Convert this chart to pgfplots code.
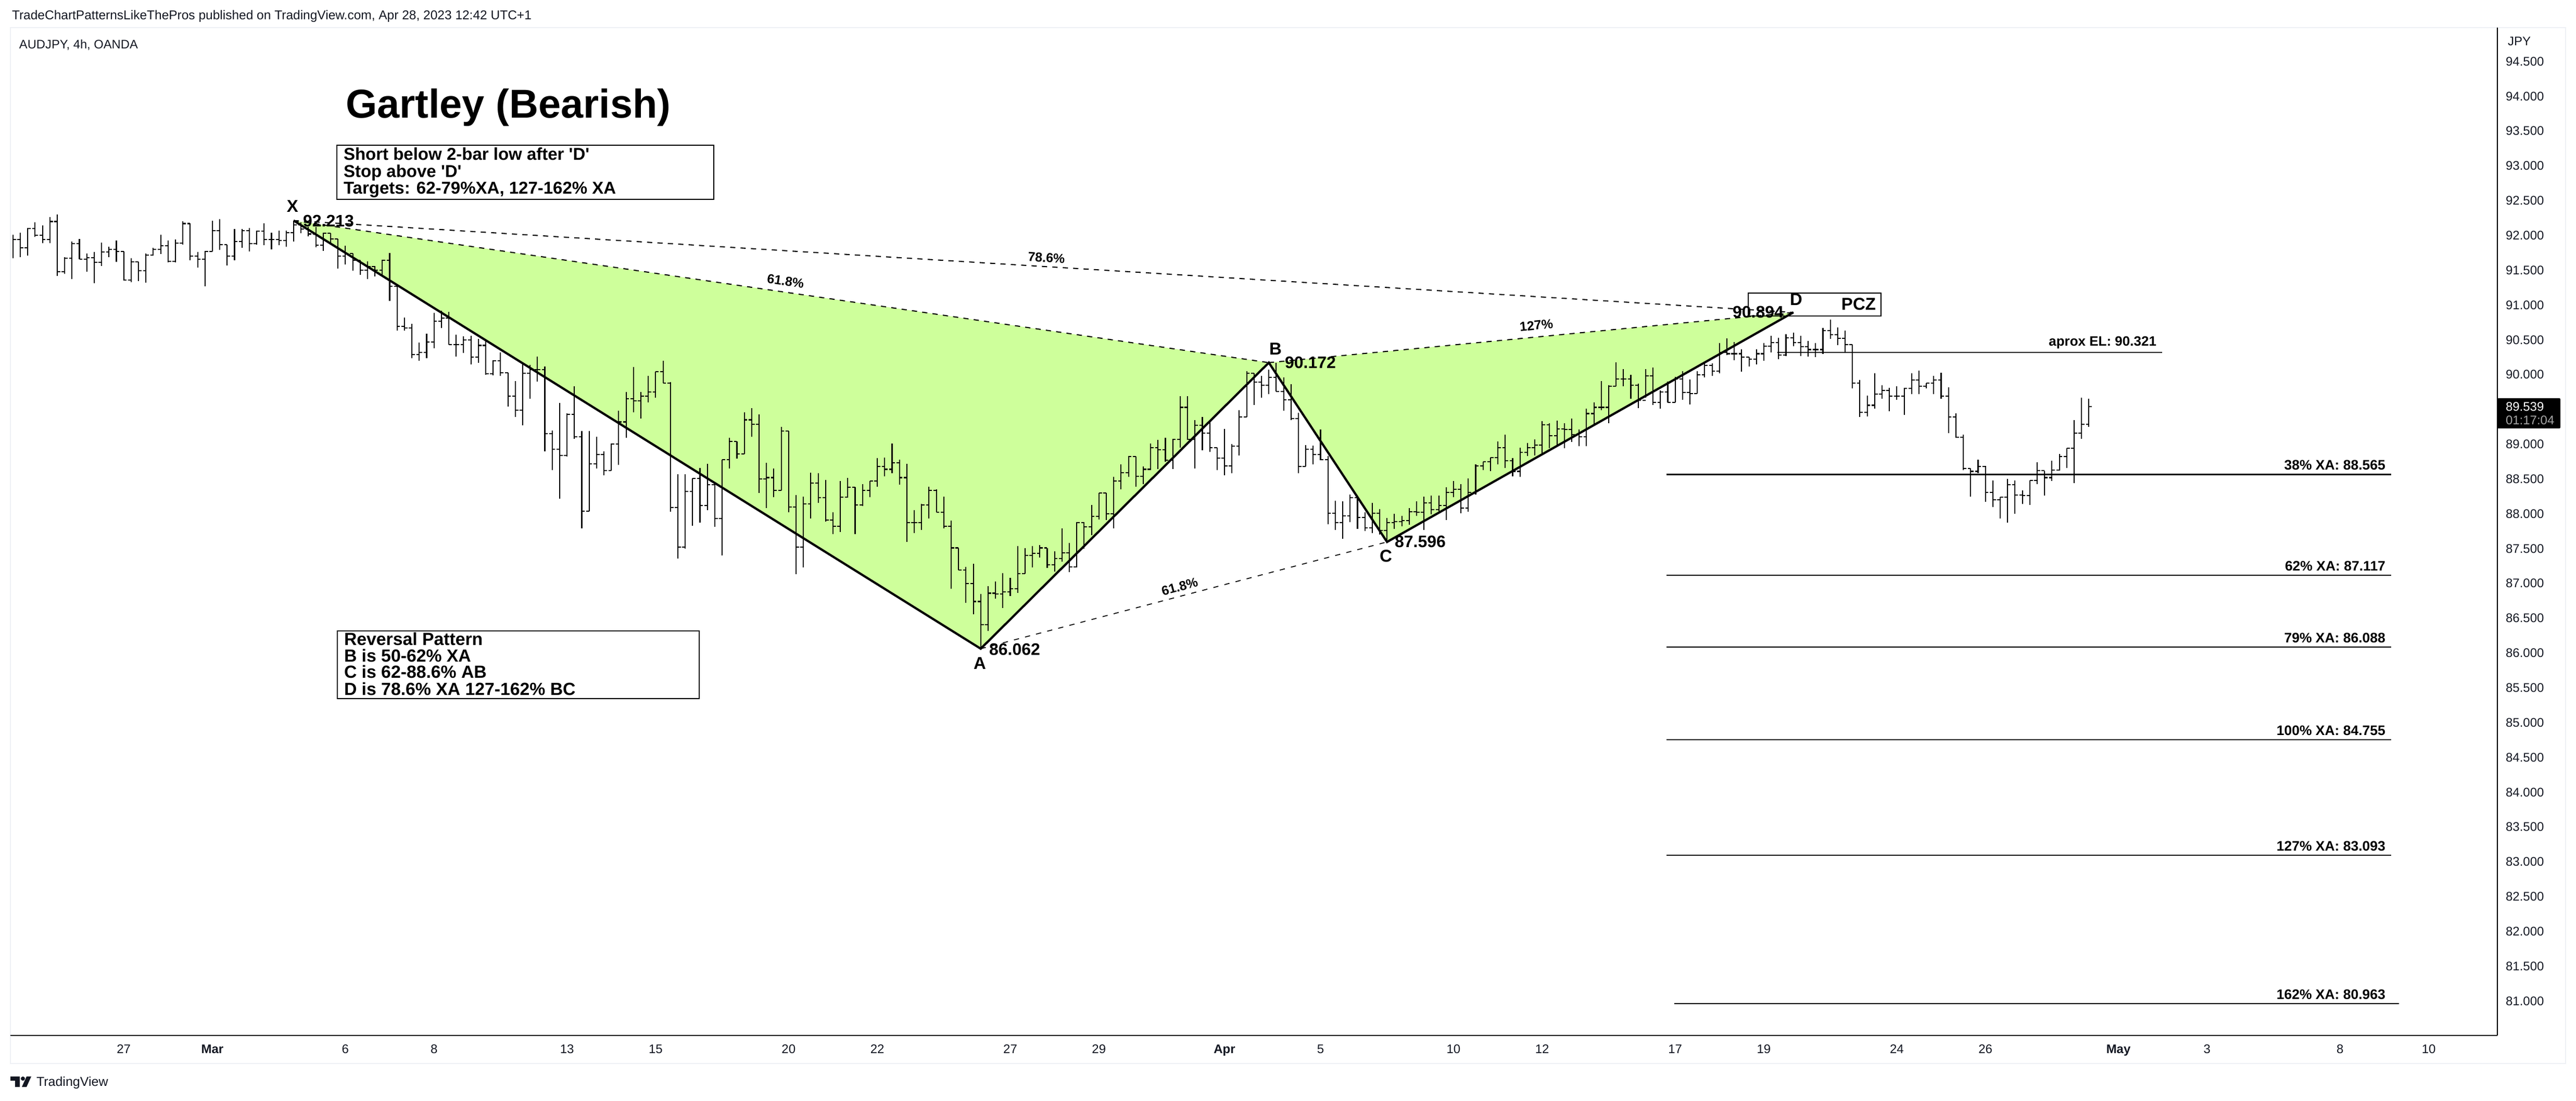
\documentclass[border=0pt]{standalone}
\usepackage{fontspec}
\setmainfont{Liberation Sans}
\newfontfamily\plainq{Liberation Sans}
\usepackage{pgfplots}
\usepackage{pgfplotstable}
\pgfplotsset{compat=1.18}
\definecolor{patfill}{HTML}{CEFF9B}
\definecolor{tvink}{HTML}{131722}
\definecolor{paneedge}{HTML}{EEF0F5}
\newcommand\fs[1]{\fontsize{#1}{#1}\selectfont}
\pgfdeclareplotmark{closetick}{\pgfpathmoveto{\pgfpointorigin}\pgfpathlineto{\pgfpoint{1.15pt}{0pt}}\pgfusepathqstroke}
\pgfdeclareplotmark{opentick}{\pgfpathmoveto{\pgfpointorigin}\pgfpathlineto{\pgfpoint{-1.15pt}{0pt}}\pgfusepathqstroke}
\pgfplotstableread{
x h l c
-38 92.01 91.67 91.94
-37 92.04 91.69 91.82
-36 92.11 91.71 92.10
-35 92.19 91.98 92.00
-34 92.14 91.89 91.94
-33 92.26 91.89 92.20
-32 92.30 91.42 91.48
-31 91.69 91.45 91.67
-30 91.91 91.37 91.88
-29 91.95 91.66 91.66
-28 91.74 91.48 91.68
-27 91.76 91.31 91.61
-26 91.90 91.56 91.76
-25 91.84 91.69 91.80
-24 91.93 91.62 91.77
-23 91.77 91.35 91.36
-22 91.67 91.33 91.62
-21 91.62 91.34 91.49
-20 91.74 91.32 91.72
-19 91.82 91.71 91.80
-18 92.01 91.73 91.85
-17 91.93 91.61 91.63
-16 91.94 91.61 91.89
-15 92.20 91.87 92.17
-14 92.17 91.64 91.70
-13 91.76 91.54 91.66
-12 91.78 91.27 91.77
-11 92.21 91.77 92.07
-10 92.23 91.79 91.87
-9 91.87 91.57 91.70
-8 92.09 91.64 91.91
-7 92.09 91.82 92.07
-6 92.11 91.77 91.88
-5 92.07 91.87 92.06
-4 92.17 91.86 91.94
-3 92.04 91.80 91.94
-2 92.07 91.86 91.93
-1 92.07 91.84 92.04
0 92.213 91.91 92.15
1 92.19 92.03 92.09
2 92.12 91.99 92.02
3 92.12 91.83 91.86
4 92.04 91.78 92.03
5 92.03 91.88 91.95
6 91.95 91.52 91.70
7 91.85 91.58 91.74
8 91.74 91.49 91.64
9 91.64 91.43 91.50
10 91.63 91.37 91.55
11 91.56 91.41 91.50
12 91.65 91.43 91.64
13 91.75 91.06 91.27
14 91.27 90.63 90.69
15 90.82 90.63 90.67
16 90.73 90.24 90.29
17 90.46 90.20 90.32
18 90.59 90.24 90.47
19 90.89 90.38 90.77
20 90.92 90.67 90.81
21 90.90 90.43 90.43
22 90.57 90.26 90.43
23 90.55 90.31 90.50
24 90.56 90.15 90.25
25 90.51 90.17 90.42
26 90.50 90.00 90.01
27 90.21 89.99 90.20
28 90.32 89.98 90.03
29 90.03 89.54 89.69
30 89.91 89.39 89.49
31 90.15 89.27 90.02
32 90.14 89.65 90.07
33 90.26 89.90 90.07
34 90.12 88.90 89.15
35 89.20 88.63 88.93
36 89.59 88.22 88.84
37 89.44 88.82 89.43
38 89.83 89.08 89.11
39 89.19 87.79 88.04
40 89.19 88.04 88.72
41 89.11 88.65 88.85
42 88.90 88.55 88.62
43 89.01 88.62 89.00
44 89.48 88.70 89.32
45 89.75 89.09 89.65
46 90.11 89.46 89.62
47 89.75 89.37 89.69
48 89.98 89.60 89.75
49 90.04 89.67 90.04
50 90.20 89.88 89.88
51 89.89 88.03 88.09
52 88.57 87.36 87.52
53 88.57 87.50 88.32
54 88.51 87.83 88.51
55 88.66 87.87 88.12
56 88.72 88.05 88.42
57 88.43 87.81 87.93
58 88.78 87.40 88.78
59 89.09 88.65 89.04
60 89.04 88.79 88.86
61 89.46 88.86 89.35
62 89.52 89.11 89.29
63 89.43 88.30 88.50
64 88.73 88.08 88.52
65 88.65 88.24 88.34
66 89.25 88.34 89.19
67 89.19 88.02 88.10
68 88.27 87.13 87.52
69 88.25 87.23 88.14
70 88.59 87.93 88.44
71 88.58 88.16 88.23
72 88.49 87.89 87.91
73 88.02 87.71 87.82
74 88.47 87.74 88.24
75 88.52 88.23 88.38
76 88.38 87.71 88.13
77 88.43 88.11 88.34
78 88.47 88.24 88.47
79 88.80 88.39 88.68
80 88.81 88.54 88.64
81 89.01 88.58 88.73
82 88.78 88.42 88.52
83 88.72 87.60 87.87
84 88.05 87.72 87.87
85 88.14 87.77 88.13
86 88.39 87.93 88.34
87 88.35 88.02 88.02
88 88.25 87.79 87.82
89 87.90 86.92 87.51
90 87.51 87.19 87.19
91 87.24 86.72 87.00
92 87.28 86.56 86.74
93 86.85 86.06 86.41
94 86.96 86.32 86.86
95 87.03 86.78 86.85
96 87.15 86.65 86.88
97 87.08 86.82 86.92
98 87.54 86.86 87.14
99 87.51 87.14 87.40
100 87.54 87.23 87.43
101 87.55 87.37 87.51
102 87.51 87.22 87.27
103 87.46 87.17 87.36
104 87.79 87.31 87.44
105 87.58 87.16 87.24
106 87.88 87.23 87.87
107 87.88 87.50 87.81
108 88.13 87.69 87.96
109 88.30 87.92 88.30
110 88.30 87.91 88.00
111 88.53 87.79 88.47
112 88.71 88.35 88.59
113 88.83 88.53 88.82
114 88.82 88.39 88.54
115 88.68 88.43 88.64
116 89.01 88.63 88.95
117 89.06 88.64 88.92
118 89.09 88.75 88.77
119 89.08 88.64 89.07
120 89.69 88.95 89.53
121 89.69 89.06 89.07
122 89.35 88.65 89.27
123 89.39 88.91 89.16
124 89.32 88.89 88.95
125 88.95 88.63 88.80
126 89.22 88.55 88.69
127 89.00 88.58 88.97
128 89.49 88.84 89.39
129 90.05 89.39 90.02
130 90.02 89.56 89.89
131 89.98 89.67 89.85
132 90.07 89.72 89.96
133 90.172 89.76 89.76
134 89.96 89.48 89.64
135 89.86 89.35 89.37
136 89.45 88.58 88.68
137 88.99 88.68 88.93
138 88.98 88.71 88.85
139 89.21 88.77 88.78
140 88.83 87.85 88.01
141 88.19 87.77 87.87
142 88.18 87.64 87.97
143 88.28 87.88 88.23
144 88.23 87.78 87.95
145 88.02 87.75 87.80
146 88.16 87.72 88.01
147 88.07 87.70 87.76
148 87.94 87.596 87.87
149 88.00 87.78 87.89
150 87.97 87.82 87.90
151 88.08 87.84 88.03
152 88.18 87.97 88.02
153 88.25 87.77 88.16
154 88.26 87.99 88.06
155 88.26 88.04 88.12
156 88.38 87.91 88.31
157 88.47 88.24 88.35
158 88.43 88.01 88.08
159 88.51 88.03 88.31
160 88.71 88.28 88.69
161 88.75 88.63 88.75
162 88.81 88.61 88.81
163 89.04 88.71 88.95
164 89.14 88.66 88.76
165 88.80 88.54 88.61
166 88.95 88.53 88.88
167 89.02 88.83 88.95
168 89.07 88.84 88.99
169 89.33 88.87 89.28
170 89.30 88.94 89.12
171 89.34 88.99 89.22
172 89.30 88.94 89.21
173 89.37 89.03 89.14
174 89.21 88.97 89.11
175 89.51 88.97 89.44
176 89.60 89.29 89.53
177 89.91 89.49 89.53
178 89.85 89.30 89.83
179 90.18 89.83 89.94
180 90.08 89.83 89.94
181 90.00 89.65 89.85
182 89.87 89.52 89.63
183 90.08 89.67 89.98
184 90.10 89.56 89.60
185 89.77 89.51 89.75
186 89.90 89.60 89.60
187 89.97 89.60 89.94
188 90.05 89.64 89.74
189 89.93 89.57 89.73
190 90.05 89.73 90.00
191 90.16 89.96 90.13
192 90.16 89.98 90.05
193 90.45 90.02 90.32
194 90.52 90.28 90.30
195 90.47 90.21 90.30
196 90.36 90.04 90.25
197 90.25 90.12 90.22
198 90.36 90.15 90.30
199 90.45 90.20 90.41
200 90.56 90.32 90.46
201 90.53 90.22 90.28
202 90.58 90.27 90.53
203 90.60 90.41 90.46
204 90.56 90.27 90.40
205 90.48 90.26 90.36
206 90.45 90.25 90.36
207 90.67 90.30 90.63
208 90.79 90.51 90.57
209 90.68 90.42 90.52
210 90.63 90.31 90.43
211 90.43 89.80 89.88
212 89.92 89.39 89.46
213 89.70 89.40 89.56
214 90.02 89.51 89.72
215 89.85 89.65 89.77
216 89.81 89.47 89.69
217 89.83 89.64 89.69
218 89.81 89.42 89.80
219 90.02 89.72 89.92
220 90.06 89.72 89.83
221 89.88 89.80 89.88
222 89.98 89.72 89.92
223 90.03 89.65 89.69
224 89.82 89.16 89.39
225 89.44 89.09 89.10
226 89.14 88.63 88.65
227 88.65 88.25 88.61
228 88.78 88.58 88.68
229 88.69 88.17 88.31
230 88.48 88.10 88.20
231 88.24 87.93 88.24
232 88.50 87.87 88.42
233 88.48 88.00 88.27
234 88.34 88.14 88.26
235 88.48 88.13 88.48
236 88.74 88.43 88.62
237 88.61 88.26 88.52
238 88.76 88.47 88.63
239 88.86 88.62 88.82
240 88.94 88.66 88.94
241 89.35 88.44 89.16
242 89.67 89.08 89.29
243 89.65 89.25 89.539
}\bars
\begin{document}
\begin{tikzpicture}
\path (0,0) rectangle (989.6pt,422.8pt);
\draw[paneedge,line width=.4pt] (4pt,74.2pt) -- (4pt,412.2pt) -- (985.6pt,412.2pt) -- (985.6pt,14.2pt) -- (4pt,14.2pt) -- cycle;
\begin{axis}[
  at={(4pt,25pt)},anchor=south west,
  scale only axis,width=955.4pt,height=387.2pt,
  xmin=-38.34,xmax=298.3,ymin=80.506,ymax=94.986,
  axis x line=bottom,axis y line=right,
  axis line style={black,line width=.5pt,-},
  clip=false,
  xtick={-23,-11,7,19,37,49,67,79,97,109,126,139,157,169,187,199,217,229,247,259,277,289},
  xticklabels={27,\textbf{Mar},6,8,13,15,20,22,27,29,\textbf{Apr},5,10,12,17,19,24,26,\textbf{May},3,8,10},
  ytick={81,81.5,82,82.5,83,83.5,84,84.5,85,85.5,86,86.5,87,87.5,88,88.5,89,90,90.5,91,91.5,92,92.5,93,93.5,94,94.5},
  major tick length=0pt,
  scaled y ticks=false,
  xticklabel style={anchor=base,yshift=-6.8pt,inner sep=0pt,font=\fs{4.8pt},text=tvink},
  yticklabel style={anchor=west,xshift=3pt,inner sep=0pt,font=\fs{4.8pt},text=tvink,
    /pgf/number format/fixed,/pgf/number format/fixed zerofill,
    /pgf/number format/precision=3,/pgf/number format/assume math mode=true},
]
\addplot[fill=patfill,draw=none,forget plot] coordinates {(0,92.213) (93,86.062) (132,90.172)} --cycle;
\addplot[fill=patfill,draw=none,forget plot] coordinates {(132,90.172) (148,87.596) (203,90.894)} --cycle;
\addplot[only marks,mark=closetick,mark options={line width=.42pt,draw=black},
  error bars/.cd,y dir=both,y explicit,error mark=none,error bar style={line width=.42pt,black}]
  table[x=x,y=c,y error plus expr=\thisrow{h}-\thisrow{c},y error minus expr=\thisrow{c}-\thisrow{l}] {\bars};
\addplot[only marks,mark=opentick,mark options={line width=.42pt,draw=black},skip coords between index={281}{282}]
  table[x expr=\thisrow{x}+1,y=c] {\bars};
\addplot[black,line width=.42pt,dash pattern=on 2pt off 2pt] coordinates {(0,92.213) (132,90.172)};
\addplot[black,line width=.42pt,dash pattern=on 2pt off 2pt] coordinates {(0,92.213) (203,90.894)};
\addplot[black,line width=.35pt,dash pattern=on 2pt off 2.4pt] coordinates {(93,86.062) (148,87.596)};
\addplot[black,line width=.42pt,dash pattern=on 2pt off 2pt] coordinates {(132,90.172) (203,90.894)};
\addplot[black,line width=.85pt,line join=miter] coordinates {(0,92.213) (93,86.062) (132,90.172) (148,87.596) (203,90.894)};
\addplot[black,line width=.45pt] coordinates {(200.8,90.321) (252.9,90.321)};
\addplot[black,line width=.45pt] coordinates {(185.8,88.565) (283.9,88.565)};
\addplot[black,line width=.45pt] coordinates {(185.8,87.117) (283.9,87.117)};
\addplot[black,line width=.45pt] coordinates {(185.8,86.088) (283.9,86.088)};
\addplot[black,line width=.45pt] coordinates {(185.8,84.755) (283.9,84.755)};
\addplot[black,line width=.45pt] coordinates {(185.8,83.093) (283.9,83.093)};
\addplot[black,line width=.45pt] coordinates {(186.9,80.963) (285,80.963)};
\end{axis}
\begin{scope}[x=0.2pt,y=-0.2pt,shift={(0pt,422.8pt)}]
% header, footer, legend line
\node[anchor=west,inner sep=0pt,font=\fs{4.9pt},text=tvink] at (22,31) {TradeChartPatternsLikeThePros published on TradingView.com, Apr 28, 2023 12:42 UTC+1};
\node[anchor=west,inner sep=0pt,font=\fs{4.75pt},text=tvink] at (36,86) {AUDJPY, 4h, OANDA};
\node[anchor=west,inner sep=0pt,font=\fs{5pt},text=tvink] at (69,2080) {TradingView};
\fill[tvink] (20,2068) -- (38,2068) -- (38,2088) -- (29,2088) -- (29,2076) -- (20,2076) -- cycle;
\fill[tvink] (44,2072) circle (4);
\fill[tvink] (51,2068) -- (60,2068) -- (51,2088) -- (42,2088) -- cycle;
% price scale
\node[anchor=west,inner sep=0pt,font=\fs{4.8pt},text=tvink] at (4816,79) {JPY};
\fill[black,rounded corners=.4pt] (4797,765) rectangle (4918,823);
\node[anchor=west,inner sep=0pt,font=\fs{4.8pt},text=white] at (4812,781) {89.539};
\node[anchor=west,inner sep=0pt,font=\fs{4.8pt},text=black!35] at (4812,807) {01:17:04};
% title and boxes
\node[anchor=base west,inner sep=0pt,font=\bfseries\fs{15.5pt}] at (663,227) {Gartley (Bearish)};
\draw[black,line width=.42pt] (647,279) rectangle (1371,383);
\node[anchor=base west,inner sep=0pt,font=\bfseries\fs{6.6pt}] at (659,308) {\plainq Short below 2-bar low after 'D'};
\node[anchor=base west,inner sep=0pt,font=\bfseries\fs{6.6pt}] at (659,341) {\plainq Stop above 'D'};
\node[anchor=base west,inner sep=0pt,font=\bfseries\fs{6.6pt}] at (659,373) {Targets: 62-79\%XA, 127-162\% XA};
\draw[black,line width=.42pt] (648,1212) rectangle (1343,1342);
\node[anchor=base west,inner sep=0pt,font=\bfseries\fs{6.75pt}] at (660,1240) {Reversal Pattern};
\node[anchor=base west,inner sep=0pt,font=\bfseries\fs{6.75pt}] at (660,1272) {B is 50-62\% XA};
\node[anchor=base west,inner sep=0pt,font=\bfseries\fs{6.75pt}] at (660,1303) {C is 62-88.6\% AB};
\node[anchor=base west,inner sep=0pt,font=\bfseries\fs{6.75pt}] at (660,1336) {D is 78.6\% XA 127-162\% BC};
\draw[black,line width=.42pt] (3358,563) rectangle (3613,607);
% point labels
\node[inner sep=0pt,font=\bfseries\fs{6.6pt}] at (562,396) {X};
\node[inner sep=0pt,font=\bfseries\fs{6.4pt}] at (631,425) {92.213};
\node[inner sep=0pt,font=\bfseries\fs{6.6pt}] at (1882,1274) {A};
\node[inner sep=0pt,font=\bfseries\fs{6.4pt}] at (1949,1248) {86.062};
\node[inner sep=0pt,font=\bfseries\fs{6.6pt}] at (2450,670) {B};
\node[inner sep=0pt,font=\bfseries\fs{6.4pt}] at (2517,697) {90.172};
\node[inner sep=0pt,font=\bfseries\fs{6.6pt}] at (2662,1068) {C};
\node[inner sep=0pt,font=\bfseries\fs{6.4pt}] at (2728,1041) {87.596};
\node[inner sep=0pt,font=\bfseries\fs{6.6pt}] at (3450,575) {D};
\node[inner sep=0pt,font=\bfseries\fs{6.4pt}] at (3377,600) {90.894};
\node[inner sep=0pt,font=\bfseries\fs{6.6pt}] at (3570,584) {PCZ};
% ratios
\node[inner sep=0pt,font=\bfseries\fs{5pt},rotate=-3.4] at (2010,495) {78.6\%};
\node[inner sep=0pt,font=\bfseries\fs{5pt},rotate=-8] at (1509,540) {61.8\%};
\node[inner sep=0pt,font=\bfseries\fs{5pt},rotate=5.4] at (2951,625) {127\%};
\node[inner sep=0pt,font=\bfseries\fs{5pt},rotate=15] at (2266,1127) {61.8\%};
% levels
\node[anchor=east,inner sep=0pt,font=\bfseries\fs{5.2pt}] at (4143,658) {aprox EL: 90.321};
\node[anchor=east,inner sep=0pt,font=\bfseries\fs{5.3pt}] at (4583,893) {38\% XA: 88.565};
\node[anchor=east,inner sep=0pt,font=\bfseries\fs{5.3pt}] at (4583,1087) {62\% XA: 87.117};
\node[anchor=east,inner sep=0pt,font=\bfseries\fs{5.3pt}] at (4583,1225) {79\% XA: 86.088};
\node[anchor=east,inner sep=0pt,font=\bfseries\fs{5.3pt}] at (4583,1403) {100\% XA: 84.755};
\node[anchor=east,inner sep=0pt,font=\bfseries\fs{5.3pt}] at (4583,1625) {127\% XA: 83.093};
\node[anchor=east,inner sep=0pt,font=\bfseries\fs{5.3pt}] at (4583,1910) {162\% XA: 80.963};
\end{scope}
\end{tikzpicture}
\end{document}
